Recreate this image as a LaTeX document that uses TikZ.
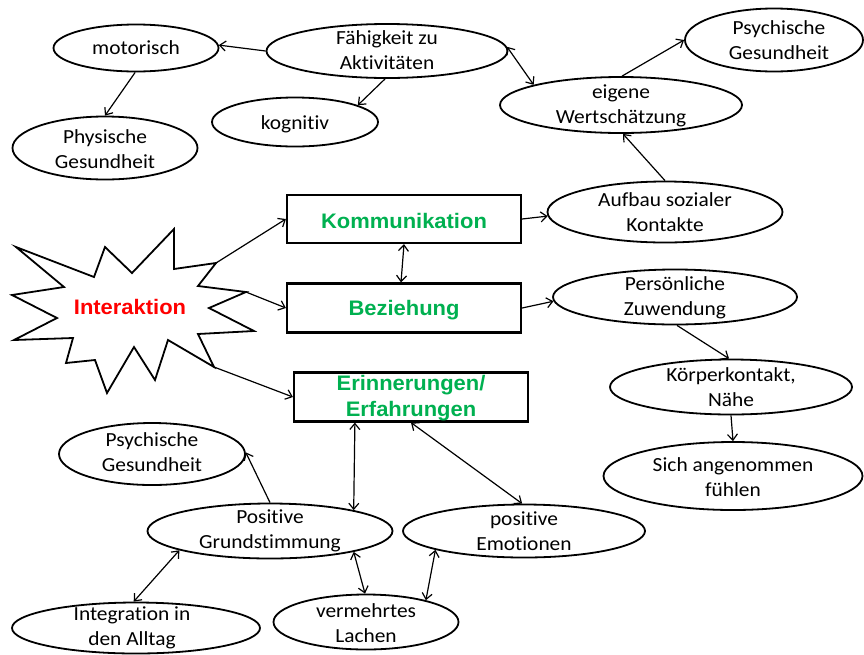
\documentclass[tikz,border=0pt]{standalone}
\usepackage{fontspec}
\setmainfont{Carlito}[FakeStretch=1.07,Ligatures=NoCommon]
\newfontfamily\arialb{Liberation Sans}[FakeStretch=1.045]
\usetikzlibrary{shapes.geometric,arrows.meta}
\definecolor{ogreen}{RGB}{0,176,80}
\definecolor{ored}{RGB}{255,0,0}
\tikzset{
  oval/.style={draw, ellipse, line width=1.8pt, inner sep=0pt},
  boxnode/.style={draw, rectangle, line width=2.2pt, inner sep=0pt, minimum width=234pt, minimum height=48pt},
  txt/.style={align=center, inner sep=0pt, font=\fontsize{20}{24.5}\selectfont},
  btxt/.style={align=center, inner sep=0pt, text=ogreen, font=\arialb\bfseries\fontsize{21}{26}\selectfont},
  conn/.style={line width=1.2pt, -{Straight Barb[length=6pt,width=10pt]}},
  dconn/.style={line width=1.2pt, {Straight Barb[length=6pt,width=10pt]}-{Straight Barb[length=6pt,width=10pt]}},
  starline/.style={line width=1.8pt, line join=miter}
}
\begin{document}
\begin{tikzpicture}[x=1pt,y=-1pt]
\useasboundingbox (0,0) rectangle (864,654);

% ellipses
\node[oval, minimum width=165pt, minimum height=47pt] (mot) at (136,48) {};
\node[oval, minimum width=241pt, minimum height=54pt] (fah) at (387,51) {};
\node[oval, minimum width=166pt, minimum height=49pt] (kog) at (295,122) {};
\node[oval, minimum width=185pt, minimum height=63pt] (phy) at (105,148) {};
\node[oval, minimum width=178pt, minimum height=63pt] (psy1) at (774,40) {};
\node[oval, minimum width=242pt, minimum height=56pt] (eig) at (621,105) {};
\node[oval, minimum width=235pt, minimum height=61pt] (auf) at (665,212) {};
\node[oval, minimum width=244pt, minimum height=55pt] (pz) at (675,297) {};
\node[oval, minimum width=242pt, minimum height=55pt] (kk) at (731,387) {};
\node[oval, minimum width=259pt, minimum height=68pt] (sa) at (733,476) {};
\node[oval, minimum width=186pt, minimum height=62pt] (psy2) at (152,454) {};
\node[oval, minimum width=245pt, minimum height=55pt] (pg) at (270,531) {};
\node[oval, minimum width=242pt, minimum height=53pt] (pe) at (524,531) {};
\node[oval, minimum width=248pt, minimum height=51pt] (integ) at (136,628) {};
\node[oval, minimum width=185pt, minimum height=55pt] (vl) at (366,622) {};

% texts in ellipses
\node[txt] (mot-t) at (mot) {motorisch};
\node[txt] (fah-t) at ([yshift=1pt]fah.center) {Fähigkeit zu\\Aktivitäten};
\node[txt] (kog-t) at ([yshift=-2pt]kog.center) {kognitiv};
\node[txt] (phy-t) at ([yshift=-1pt]phy.center) {Physische\\Gesundheit};
\node[txt] (psy1-t) at ([xshift=5pt]psy1.center) {Psychische\\Gesundheit};
\node[txt] (eig-t) at ([yshift=-1pt]eig.center) {eigene\\Wertschätzung};
\node[txt] (auf-t) at (auf) {Aufbau sozialer\\Kontakte};
\node[txt] (pz-t) at ([yshift=-1pt]pz.center) {Persönliche\\Zuwendung};
\node[txt] (kk-t) at (kk) {Körperkontakt,\\Nähe};
\node[txt] (sa-t) at ([yshift=-1pt]sa.center) {Sich angenommen\\fühlen};
\node[txt] (psy2-t) at ([yshift=2pt]psy2.center) {Psychische\\Gesundheit};
\node[txt] (pg-t) at (pg) {Positive\\Grundstimmung};
\node[txt] (pe-t) at (pe) {positive\\Emotionen};
\node[txt] (integ-t) at ([xshift=-4pt]integ.center) {Integration in\\den Alltag};
\node[txt] (vl-t) at ([yshift=-1pt]vl.center) {vermehrtes\\Lachen};

% boxes
\node[boxnode] (komm) at (404,219) {};
\node[btxt] (komm-t) at ([yshift=-1.5pt]komm.center) {Kommunikation};
\node[boxnode, minimum height=49pt] (bez) at (404,308) {};
\node[btxt] (bez-t) at ([yshift=-2pt]bez.center) {Beziehung};
\node[boxnode, minimum height=49pt] (erin) at (411,397) {};
\node[btxt] (erin-t) at ([yshift=-1pt]erin.center) {Erinnerungen/\\Erfahrungen};

% star
\coordinate (p1) at (16,247);
\coordinate (p2) at (94,277);
\coordinate (p3) at (105,247);
\coordinate (p4) at (132,273);
\coordinate (p5) at (174,229);
\coordinate (p6) at (174,269);
\coordinate (p7) at (216,263);
\coordinate (p8) at (198,286);
\coordinate (p9) at (246,292);
\coordinate (p10) at (209,308);
\coordinate (p11) at (254,331);
\coordinate (p12) at (198,334);
\coordinate (p13) at (214,367);
\coordinate (p14) at (168,340);
\coordinate (p15) at (155,380);
\coordinate (p16) at (134,347);
\coordinate (p17) at (107,393);
\coordinate (p18) at (95,360);
\coordinate (p19) at (66,363);
\coordinate (p20) at (73,338);
\coordinate (p21) at (14,340);
\coordinate (p22) at (57,318);
\coordinate (p23) at (12,295);
\coordinate (p24) at (64,287);
\draw[starline] (p1) -- (p2) -- (p3) -- (p4) -- (p5) -- (p6) -- (p7) -- (p8) -- (p9) -- (p10) -- (p11) -- (p12) -- (p13) -- (p14) -- (p15) -- (p16) -- (p17) -- (p18) -- (p19) -- (p20) -- (p21) -- (p22) -- (p23) -- (p24) -- cycle;
\node[btxt, text=ored] (inter) at (130,307) {Interaktion};

% connectors
\draw[conn] (fah.180) -- (mot.2);
\draw[conn] (mot.268) -- (phy.90);
\draw[conn] (fah.266) -- (kog.15);
\draw[dconn] (fah.2) -- (eig.167);
\draw[conn] (eig.88) -- (psy1.180);
\draw[conn] (auf.90) -- (eig.274);
\draw[conn] (komm.east) -- (auf.182);
\draw[conn] (p7) -- (komm.west);
\draw[conn] (p9) -- (bez.west);
\draw[conn] (p13) -- (erin.west);
\draw[dconn] (komm.south) -- ([xshift=-3pt]bez.north);
\draw[conn] (bez.east) -- (pz.182);
\draw[conn] (pz.274) -- (kk.94);
\draw[conn] (kk.270) -- (sa.90);
\draw[dconn] ([xshift=62pt]erin.south west) -- (pg.14);
\draw[dconn] (erin.south) -- (pe.94);
\draw[conn] (pg.90) -- (psy2.1);
\draw[dconn] (pg.192) -- (integ.95);
\draw[dconn] (pg.346) -- (vl.92);
\draw[dconn] (vl.20) -- (pe.192);
\end{tikzpicture}
\end{document}
